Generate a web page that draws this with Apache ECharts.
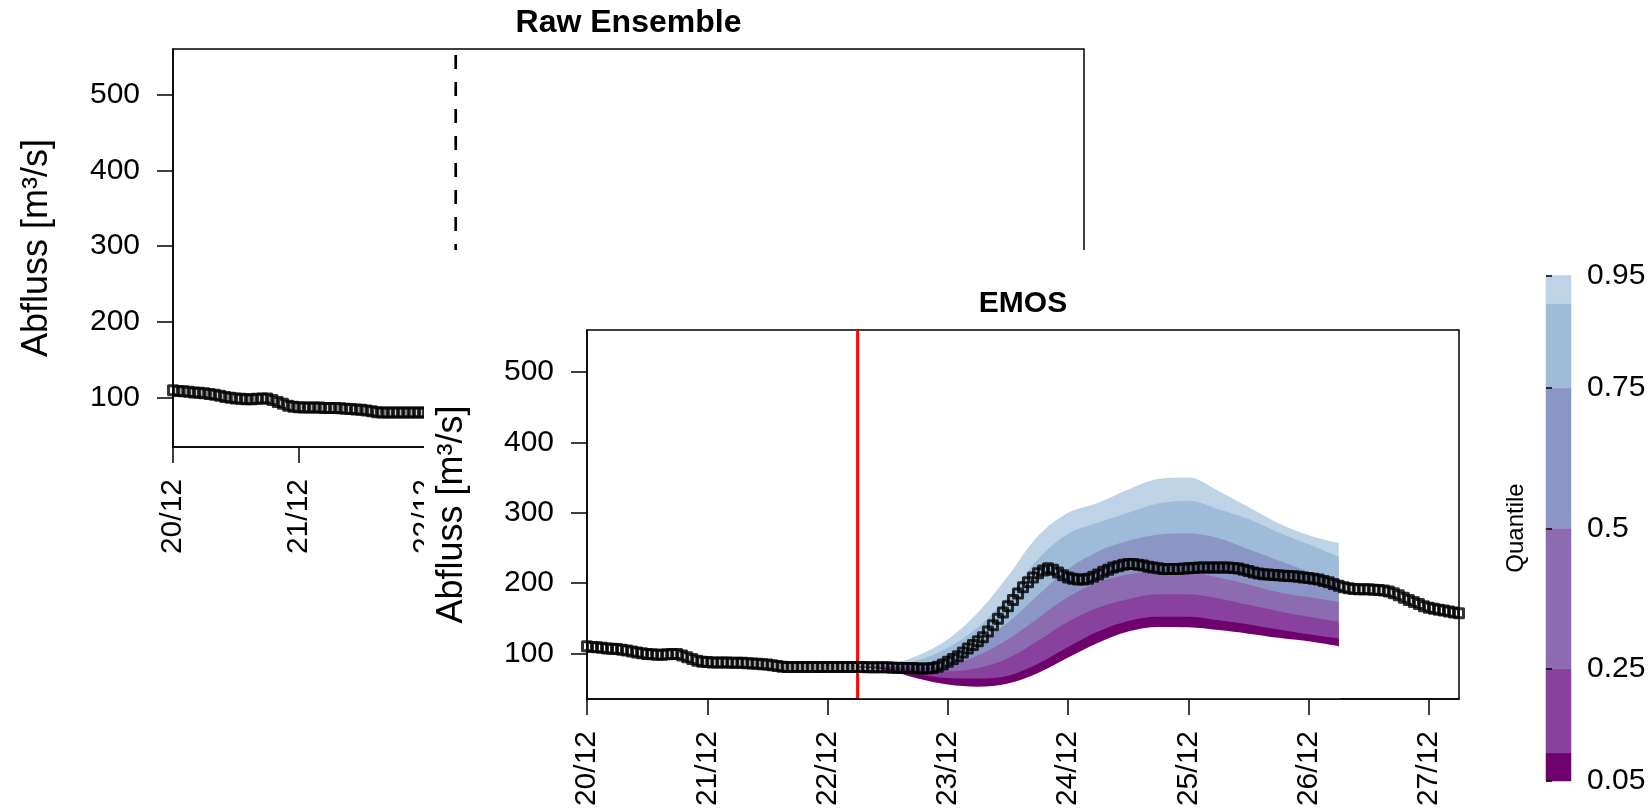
<!DOCTYPE html>
<html>
<head>
<meta charset="utf-8">
<script src="https://cdn.jsdelivr.net/npm/echarts@6/dist/echarts.min.js"></script>
<style>
  html, body { margin: 0; padding: 0; background: #fff; }
  #chart { width: 1651px; height: 810px; }
</style>
</head>
<body>
<div id="chart"></div>
<script>
// Time axis: hours since 20/12 00:00
const dayLabels = ['20/12', '21/12', '22/12', '23/12', '24/12', '25/12', '26/12', '27/12'];
const dayTicks = [0, 24, 48, 72, 96, 120, 144, 168];
const hourMax = 174;
const forecastStart = 54;          // 22/12 06:00
const flowTicks = [100, 200, 300, 400, 500];
const flowMin = 35;
const flowMax = 560;

// Observed discharge, hourly [m³/s]
const observed = [
  110, 109, 108.5, 108, 107, 106.5, 106, 105, 104, 102.5,
  101, 100, 99, 98.5, 98, 98, 98.5, 99, 99, 97,
  94.5, 92, 89.5, 88, 87.5, 87, 87, 87, 87, 86.5,
  86.5, 86.5, 86, 85.5, 85, 84.5, 84, 83, 82, 81,
  80.5, 80.5, 80.5, 80.5, 80.5, 80.5, 80.5, 80.5, 80.5, 80.5,
  80.5, 80.5, 80.5, 80.5, 80.5, 80.5, 80, 80, 80, 80,
  80, 79.5, 79.5, 79, 79, 79, 78.5, 78.5, 78.5, 79,
  81, 84, 88, 92, 96, 101, 107, 112, 117, 123,
  131, 140, 149, 158, 167, 176, 185, 194, 201, 208,
  214, 218, 221, 219, 215, 211, 208, 206, 205, 205,
  206, 209, 212, 216, 219, 222, 224, 226, 227, 227,
  226, 225, 223, 222, 221, 220, 220, 220, 220, 220.5,
  221, 221.5, 222, 222, 222, 222, 222, 222, 222, 221.5,
  220.5, 219, 217, 215, 213.5, 212.5, 212, 211.5, 211, 210.5,
  210, 209.5, 209, 208, 207, 206, 205, 203, 201, 198.5,
  196, 194, 192.5, 191.5, 191, 191, 191, 190.5, 190, 189.5,
  188, 185.5, 182.5, 179, 176, 173, 170, 167, 165, 163.5,
  162, 161, 159.5, 158, 157
];

// EMOS predictive quantiles, 6-hourly from the forecast start
const bandHours = [54, 60, 66, 72, 78, 84, 90, 96, 102, 108, 114, 120, 126, 132, 138, 144, 150];
const q05 = [80, 76, 64, 55.5, 52.5, 57, 72, 94, 115, 131, 137.5, 137, 133, 128, 122, 117, 110];
const q10 = [80, 77.5, 70, 65, 64, 68, 85, 109, 131, 146, 152, 152, 147, 141, 134, 127, 121];
const q25 = [80.5, 79, 76, 74, 79, 93, 118, 145, 165, 177, 184, 184, 178, 169, 160, 152, 145];
const q50 = [81, 80, 79, 83, 97, 120, 150, 180, 201, 212, 216, 215.5, 208, 198, 187, 180, 173];
const q75 = [81, 81.5, 84, 94, 115, 144, 183, 220, 245, 260, 269, 271, 264, 248, 232, 216, 200];
const q90 = [81.5, 82.5, 90, 108, 137, 180, 234, 270, 286, 300, 313, 317, 305, 291, 272, 255, 237];
const q95 = [82, 84, 97, 120, 158, 210, 267, 300, 314, 333, 348, 350, 331, 308, 285, 268, 257];

const quantileLevels = [0.05, 0.1, 0.25, 0.5, 0.75, 0.9, 0.95];
const bandColors = ['#6e016b', '#88419d', '#8c6bb1', '#8c96c6', '#9ebcda', '#bfd3e6'];

const FONT = '"Liberation Sans", Arial, Helvetica, sans-serif';
const quantileSeries = [q05, q10, q25, q50, q75, q90, q95];

const chart = echarts.init(document.getElementById('chart'), null, { renderer: 'canvas' });

function timeAxis(gridIndex, z) {
  return {
    type: 'value', gridIndex, min: 0, max: hourMax, z,
    axisLine: { show: true, onZero: false, lineStyle: { color: '#000', width: 1.5 } },
    axisTick: { show: true, length: 16, customValues: dayTicks, lineStyle: { color: '#000', width: 1.5 } },
    axisLabel: {
      customValues: dayTicks, rotate: 90, margin: 32, fontSize: 30, color: '#000', fontFamily: FONT,
      formatter: v => dayLabels[dayTicks.indexOf(v)]
    },
    splitLine: { show: false }
  };
}
function flowAxis(gridIndex, z) {
  return {
    type: 'value', gridIndex, min: flowMin, max: flowMax, z,
    axisLine: { show: true, onZero: false, lineStyle: { color: '#000', width: 1.5 } },
    axisTick: { show: true, length: 16, customValues: flowTicks, lineStyle: { color: '#000', width: 1.5 } },
    axisLabel: { customValues: flowTicks, margin: 33, fontSize: 30, color: '#000', fontFamily: FONT },
    splitLine: { show: false }
  };
}

// Observations as open squares, one per hour
const obsPoints = observed.map((v, i) => [i, v]);
const obsStyle = {
  symbol: 'rect', symbolSize: 9, silent: true,
  itemStyle: { color: 'rgba(0,0,0,0)', borderColor: '#000', borderWidth: 3, borderJoin: 'round' }
};

// Quantile fan: each quantile filled down to the axis floor, highest first,
// the lowest one in white so only the bands between quantiles remain coloured
const fanSeries = [];
for (let k = quantileSeries.length - 1; k >= 0; k--) {
  fanSeries.push({
    type: 'line', xAxisIndex: 1, yAxisIndex: 1, z: 22,
    data: bandHours.map((h, i) => [h, quantileSeries[k][i]]),
    smooth: 0.35, symbol: 'none', silent: true,
    lineStyle: { width: 0 },
    areaStyle: { color: k === 0 ? '#fff' : bandColors[k - 1], opacity: 1, origin: 'start' }
  });
}
// white edge below the lowest quantile at the end of the forecast
const lastBand = bandHours.length - 1;
fanSeries.push({
  type: 'line', xAxisIndex: 1, yAxisIndex: 1, z: 22, symbol: 'none', silent: true,
  data: [[bandHours[lastBand], flowMin], [bandHours[lastBand], q05[lastBand] - 1]],
  lineStyle: { color: '#fff', width: 2 }
});

const option = {
  animation: false,
  backgroundColor: '#fff',
  grid: [
    { left: 173, top: 49, width: 911, height: 398, show: true, borderColor: '#000', borderWidth: 1.5, z: 1 },
    { left: 587, top: 330, width: 872, height: 369, show: true, borderColor: '#000', borderWidth: 1.5, z: 20 },
    { left: 1546, top: 275.5, width: 25, height: 505.5, show: false, z: 20 }
  ],
  xAxis: [
    timeAxis(0, 1),
    timeAxis(1, 25),
    { type: 'value', gridIndex: 2, min: 0, max: 1, show: false }
  ],
  yAxis: [
    flowAxis(0, 1),
    flowAxis(1, 25),
    {
      type: 'value', gridIndex: 2, min: 0.05, max: 0.95, position: 'right', z: 25,
      axisLine: { show: false },
      axisTick: { show: true, length: 6, customValues: quantileLevels, lineStyle: { color: '#000', width: 1.5 } },
      axisLabel: { customValues: quantileLevels, margin: 16, fontSize: 30, color: '#000', fontFamily: FONT,
                   showMinLabel: true, showMaxLabel: true, hideOverlap: false,
                   formatter: v => String(v) },
      splitLine: { show: false }
    }
  ],
  series: [
    // Raw ensemble panel
    Object.assign({ type: 'scatter', xAxisIndex: 0, yAxisIndex: 0, z: 3, data: obsPoints }, obsStyle),
    {
      type: 'line', xAxisIndex: 0, yAxisIndex: 0, z: 3, symbol: 'none', silent: true,
      data: [[forecastStart, flowMin], [forecastStart, flowMax]],
      lineStyle: { color: '#000', width: 2.7, type: [14, 13] }
    },
    // EMOS panel
    ...fanSeries,
    {
      type: 'line', xAxisIndex: 1, yAxisIndex: 1, z: 23, symbol: 'none', silent: true,
      data: [[forecastStart, flowMin], [forecastStart, flowMax]],
      lineStyle: { color: '#ff0000', width: 3 }
    },
    Object.assign({ type: 'scatter', xAxisIndex: 1, yAxisIndex: 1, z: 24, data: obsPoints }, obsStyle),
    // Quantile colour bar
    {
      type: 'custom', xAxisIndex: 2, yAxisIndex: 2, z: 22, silent: true,
      data: bandColors.map((c, i) => [quantileLevels[i], quantileLevels[i + 1]]),
      renderItem: (params, api) => {
        const a = api.coord([0, api.value(0)]);
        const b = api.coord([1, api.value(1)]);
        const col = bandColors[params.dataIndex];
        return { type: 'rect', shape: { x: a[0], y: b[1], width: b[0] - a[0], height: a[1] - b[1] },
                 style: { fill: col, stroke: col, lineWidth: 0.5 } };
      }
    }
  ],
  graphic: [
    // second panel sits on top of the first one
    { type: 'rect', z: 10, silent: true, shape: { x: 424, y: 250, width: 1227, height: 560 }, style: { fill: '#fff' } },
    { type: 'text', z: 30, x: 628.5, y: 23, style: { text: 'Raw Ensemble', font: 'bold 32px ' + FONT, fill: '#000', align: 'center', verticalAlign: 'middle' } },
    { type: 'text', z: 30, x: 1023, y: 304, style: { text: 'EMOS', font: 'bold 30px ' + FONT, fill: '#000', align: 'center', verticalAlign: 'middle' } },
    { type: 'text', z: 30, x: 37.5, y: 248, rotation: Math.PI / 2, style: { text: 'Abfluss [m³/s]', font: '36px ' + FONT, fill: '#000', align: 'center', verticalAlign: 'middle' } },
    { type: 'text', z: 30, x: 452, y: 514.5, rotation: Math.PI / 2, style: { text: 'Abfluss [m³/s]', font: '36px ' + FONT, fill: '#000', align: 'center', verticalAlign: 'middle' } },
    { type: 'text', z: 30, x: 1516, y: 528, rotation: Math.PI / 2, style: { text: 'Quantile', font: '24px ' + FONT, fill: '#000', align: 'center', verticalAlign: 'middle' } }
  ]
};
chart.setOption(option);
</script>
</body>
</html>
